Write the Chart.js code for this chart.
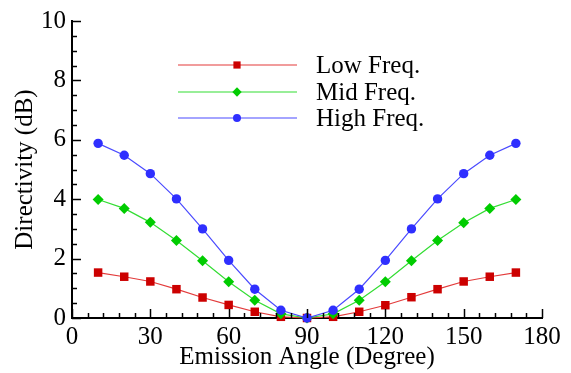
<!DOCTYPE html>
<html>
<head>
<meta charset="utf-8">
<script src="https://cdn.jsdelivr.net/npm/chart.js@4.4.1/dist/chart.umd.min.js"></script>
<style>
html,body{margin:0;padding:0;background:#fff;}
#wrap{width:571px;height:373px;position:relative;}
</style>
</head>
<body>
<div id="wrap"><canvas id="c" width="571" height="373"></canvas></div>
<script>
// ---- data ----
const angles = [10,20,30,40,50,60,70,80,90,100,110,120,130,140,150,160,170];
const lowFreq  = [1.53,1.39,1.23,0.97,0.69,0.44,0.21,0.04,0.00,0.04,0.21,0.43,0.70,0.97,1.23,1.39,1.53];
const midFreq  = [3.99,3.69,3.22,2.61,1.93,1.22,0.60,0.14,0.00,0.14,0.60,1.22,1.93,2.61,3.21,3.69,3.99];
const highFreq = [5.88,5.48,4.86,4.01,3.00,1.94,0.97,0.26,0.00,0.26,0.97,1.94,3.00,4.01,4.86,5.48,5.88];
const seriesLabels = ['Low Freq.','Mid Freq.','High Freq.'];
const xTickLabels = [0,30,60,90,120,150,180];
const yTickLabels = [0,2,4,6,8,10];
const xTitle = 'Emission Angle (Degree)';
const yTitle = 'Directivity (dB)';

const FONT = '"Liberation Serif", "Times New Roman", serif';
const pts = arr => angles.map((a,i)=>({x:a,y:arr[i]}));

const styles = [
  {line:'#e33b3b', fill:'#cc0000', shape:'rect', r:6},
  {line:'#33dd33', fill:'#00cc00', shape:'rectRot', r:5.5},
  {line:'#4a4aff', fill:'#2f2fff', shape:'circle', r:4.7}
];
const seriesData = [lowFreq, midFreq, highFreq];

const datasets = seriesData.map((d,i)=>({
  label: seriesLabels[i],
  data: pts(d),
  borderColor: styles[i].line,
  backgroundColor: styles[i].fill,
  pointBackgroundColor: styles[i].fill,
  pointBorderColor: styles[i].fill,
  pointBorderWidth: 0,
  pointStyle: styles[i].shape,
  pointRadius: styles[i].r,
  borderWidth: 1.2,
  tension: 0,
  clip: false,
  order: 2 - i
}));

const decor = {
  id: 'decor',
  afterDraw(chart) {
    const ctx = chart.ctx;
    const xs = chart.scales.x, ys = chart.scales.y;
    const a = chart.chartArea;
    ctx.save();
    ctx.strokeStyle = '#000';
    ctx.lineWidth = 1.5;
    // y ticks (inward, to the right)
    for (let v = 0; v <= 10.0001; v += 0.5) {
      const y = Math.round(ys.getPixelForValue(v)) + 0.5;
      const len = (Math.abs(v % 2) < 1e-6) ? 9 : 5;
      ctx.beginPath(); ctx.moveTo(a.left, y); ctx.lineTo(a.left + len, y); ctx.stroke();
    }
    // x ticks (inward, upward)
    for (let v = 0; v <= 180.0001; v += 6) {
      const x = Math.round(xs.getPixelForValue(v)) + 0.5;
      const len = (v % 30 === 0) ? 9 : 5;
      ctx.beginPath(); ctx.moveTo(x, a.bottom); ctx.lineTo(x, a.bottom - len); ctx.stroke();
    }
    // axis titles
    ctx.fillStyle = '#000';
    ctx.font = '25px ' + FONT;
    ctx.textAlign = 'center';
    ctx.textBaseline = 'middle';
    ctx.fillText(xTitle, (a.left + a.right) / 2, 357);
    ctx.save();
    ctx.translate(25, (a.top + a.bottom) / 2);
    ctx.rotate(-Math.PI / 2);
    ctx.fillText(yTitle, 0, 0);
    ctx.restore();
    // legend
    const rows = [65, 92, 118];
    chart.data.datasets.forEach((ds, i) => {
      const y = rows[i];
      ctx.strokeStyle = ds.borderColor;
      ctx.lineWidth = 1.2;
      ctx.beginPath(); ctx.moveTo(178, y); ctx.lineTo(297, y); ctx.stroke();
      ctx.fillStyle = ds.pointBackgroundColor;
      ctx.strokeStyle = ds.pointBackgroundColor;
      Chart.helpers.drawPoint(ctx, {pointStyle: ds.pointStyle, radius: ds.pointRadius * 0.85, borderWidth: 0}, 237, y);
      ctx.fillStyle = '#000';
      ctx.textAlign = 'left';
      ctx.textBaseline = 'middle';
      ctx.font = '25px ' + FONT;
      ctx.fillText(ds.label, 316, y + 1);
    });
    ctx.restore();
  }
};

new Chart(document.getElementById('c'), {
  type: 'line',
  data: { datasets },
  options: {
    responsive: false,
    animation: false,
    devicePixelRatio: 1,
    layout: { padding: { top: 15, right: 29, left: 0, bottom: 0 } },
    plugins: { legend: { display: false }, tooltip: { enabled: false } },
    scales: {
      x: {
        type: 'linear', min: 0, max: 180,
        afterFit: s => { s.height = 55; },
        afterBuildTicks: s => { s.ticks = xTickLabels.map(v => ({value: v})); },
        ticks: { font: { family: FONT, size: 25 }, color: '#000', padding: 4, maxRotation: 0, autoSkip: false },
        grid: { drawOnChartArea: false, drawTicks: false },
        border: { display: true, color: '#000', width: 2 }
      },
      y: {
        type: 'linear', min: 0, max: 10,
        afterFit: s => { s.width = 72; },
        afterBuildTicks: s => { s.ticks = yTickLabels.map(v => ({value: v})); },
        ticks: { font: { family: FONT, size: 25 }, color: '#000', padding: 6, autoSkip: false },
        grid: { drawOnChartArea: false, drawTicks: false },
        border: { display: true, color: '#000', width: 2 }
      }
    }
  },
  plugins: [decor]
});
</script>
</body>
</html>
